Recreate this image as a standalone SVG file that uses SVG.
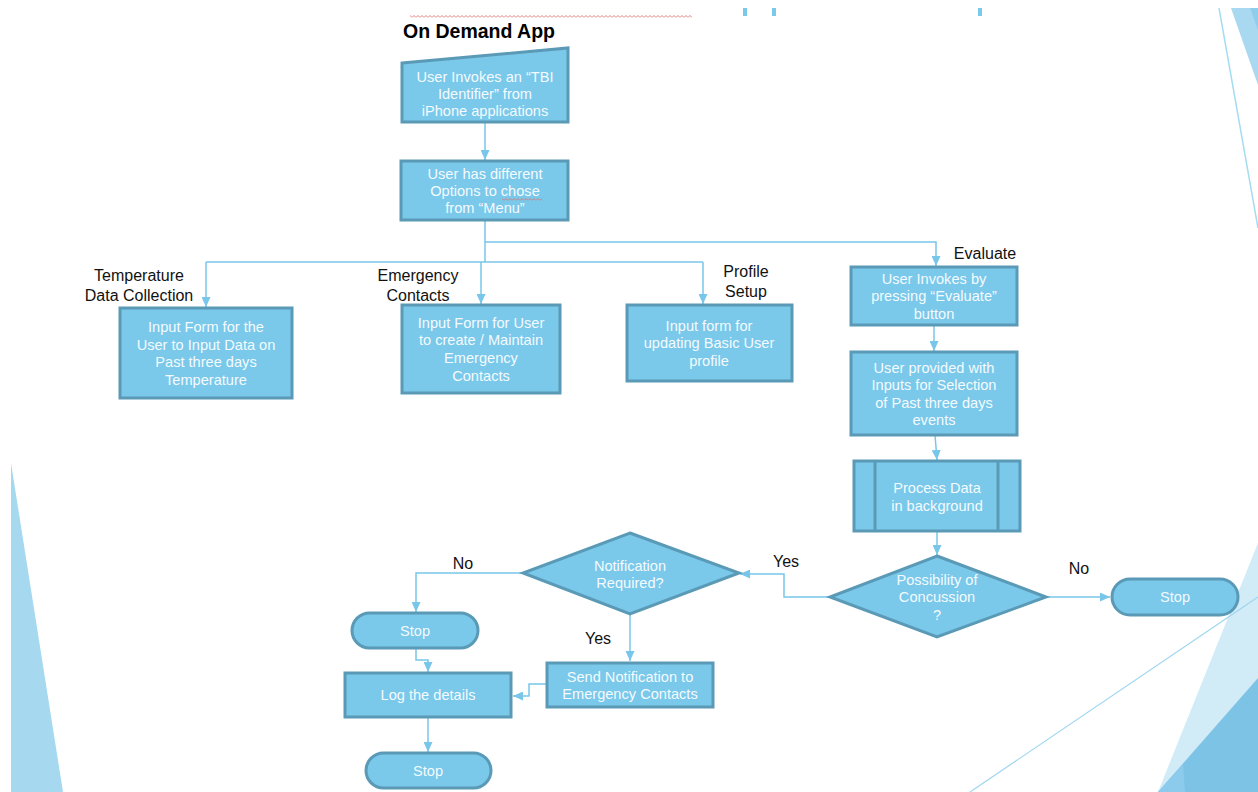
<svg xmlns="http://www.w3.org/2000/svg" width="1258" height="792" viewBox="0 0 1258 792">
<defs>
<style>
.n{fill:#7ac8ea;stroke:#5a9ab6;stroke-width:3}
.t{font-family:"Liberation Sans",Arial,sans-serif;font-size:14.6px;fill:#f4fbfe;text-anchor:middle}
.l{font-family:"Liberation Sans",Arial,sans-serif;font-size:16px;fill:#111;text-anchor:middle}
.c{fill:none;stroke:#78c6ea;stroke-width:1.5}
</style>
<pattern id="zz" x="0" y="0" width="4" height="3" patternUnits="userSpaceOnUse">
<path d="M0,2.5 L2,0.5 L4,2.5" fill="none" stroke="#e07070" stroke-width="0.9"/>
</pattern>
<marker id="a" markerWidth="10" markerHeight="9" refX="10" refY="4.5" orient="auto" markerUnits="userSpaceOnUse">
<path d="M0,0 L10,4.5 L0,9 z" fill="#78c6ea"/>
</marker>
</defs>
<rect width="1258" height="792" fill="#fff"/>
<g id="decor">
<polygon points="11,463 11,792 63,792" fill="#a6d9f0"/>
<polygon points="1231,8 1258,8 1258,85" fill="#a8d9f0"/>
<polygon points="1250,8 1258,8 1258,30" fill="#8fcdec"/>
<line x1="1219" y1="8" x2="1258" y2="228" stroke="#a6dcf2" stroke-width="1.5"/>
<polygon points="1258,543 1258,792 1158,792" fill="#d1ebf7"/>
<polygon points="1258,678 1258,792 1158,792" fill="#7dc3e6"/>
<polygon points="1183,764 1158,792 1185,792" fill="#8ccbeb"/>
<line x1="1258" y1="597" x2="970" y2="792" stroke="#9fd6f0" stroke-width="1.2"/>
<rect x="743" y="8" width="4" height="8" fill="#7ac8ea"/>
<rect x="772" y="8" width="4" height="8" fill="#7ac8ea"/>
<rect x="978" y="8" width="4" height="8" fill="#7ac8ea"/>
<rect x="410" y="15" width="282" height="3" fill="url(#zz)"/>
</g>
<text x="403" y="38" font-family="'Liberation Sans',Arial,sans-serif" font-size="19.5" font-weight="bold" fill="#000">On Demand App</text>
<g id="connectors">
<line class="c" x1="485" y1="122" x2="485" y2="160" marker-end="url(#a)"/>
<polyline class="c" points="485,220 485,262"/>
<polyline class="c" points="485,242 936,242 936,266" marker-end="url(#a)"/>
<polyline class="c" points="206,262 703,262"/>
<line class="c" x1="206" y1="262" x2="206" y2="307" marker-end="url(#a)"/>
<line class="c" x1="481" y1="262" x2="481" y2="304" marker-end="url(#a)"/>
<line class="c" x1="703" y1="262" x2="703" y2="304" marker-end="url(#a)"/>
<line class="c" x1="934" y1="325" x2="934" y2="351" marker-end="url(#a)"/>
<line class="c" x1="935" y1="435" x2="937" y2="460" marker-end="url(#a)"/>
<line class="c" x1="937" y1="531" x2="937" y2="555" marker-end="url(#a)"/>
<line class="c" x1="1046" y1="597" x2="1110" y2="597" marker-end="url(#a)"/>
<polyline class="c" points="830,597 784,597 784,574 740,574" marker-end="url(#a)"/>
<polyline class="c" points="522,573 416,573 416,612" marker-end="url(#a)"/>
<line class="c" x1="630" y1="614" x2="630" y2="661" marker-end="url(#a)"/>
<polyline class="c" points="416,648 416,660 428,660 428,672" marker-end="url(#a)"/>
<polyline class="c" points="547,684 529,684 529,696 513,696" marker-end="url(#a)"/>
<line class="c" x1="428" y1="717" x2="428" y2="752" marker-end="url(#a)"/>
</g>
<g id="labels">
<text class="l" x="139" y="281">Temperature</text>
<text class="l" x="139" y="301">Data Collection</text>
<text class="l" x="418" y="281">Emergency</text>
<text class="l" x="418" y="301">Contacts</text>
<text class="l" x="746" y="277">Profile</text>
<text class="l" x="746" y="297">Setup</text>
<text class="l" x="985" y="259">Evaluate</text>
<text class="l" x="786" y="567">Yes</text>
<text class="l" x="1079" y="574">No</text>
<text class="l" x="463" y="569">No</text>
<text class="l" x="598" y="644">Yes</text>
</g>
<g id="n-tbi">
<polygon class="n" points="402,63 568,48 568,122 402,122"/>
<text class="t" x="485" y="82">User Invokes an “TBI</text>
<text class="t" x="485" y="99">Identifier” from</text>
<text class="t" x="485" y="116">iPhone applications</text>
</g>
<g id="n-menu">
<rect class="n" x="401" y="161" width="167" height="59"/>
<text class="t" x="485" y="179">User has different</text>
<text class="t" x="485" y="196">Options to chose</text>
<text class="t" x="485" y="213">from “Menu”</text>
<rect x="502" y="198" width="40" height="3" fill="url(#zz)"/>
</g>
<g id="n-temp">
<rect class="n" x="120" y="308" width="172" height="90"/>
<text class="t" x="206" y="332">Input Form for the</text>
<text class="t" x="206" y="350">User to Input Data on</text>
<text class="t" x="206" y="367">Past three days</text>
<text class="t" x="206" y="385">Temperature</text>
</g>
<g id="n-emerg">
<rect class="n" x="402" y="305" width="158" height="88"/>
<text class="t" x="481" y="328">Input Form for User</text>
<text class="t" x="481" y="345">to create / Maintain</text>
<text class="t" x="481" y="363">Emergency</text>
<text class="t" x="481" y="381">Contacts</text>
</g>
<g id="n-profile">
<rect class="n" x="627" y="305" width="165" height="76"/>
<text class="t" x="709" y="331">Input form for</text>
<text class="t" x="709" y="348">updating Basic User</text>
<text class="t" x="709" y="366">profile</text>
</g>
<g id="n-evaluate">
<rect class="n" x="851" y="267" width="166" height="58"/>
<text class="t" x="934" y="284">User Invokes by</text>
<text class="t" x="934" y="301">pressing “Evaluate”</text>
<text class="t" x="934" y="319">button</text>
</g>
<g id="n-inputs">
<rect class="n" x="851" y="352" width="166" height="83"/>
<text class="t" x="934" y="373">User provided with</text>
<text class="t" x="934" y="390">Inputs for Selection</text>
<text class="t" x="934" y="408">of Past three days</text>
<text class="t" x="934" y="425">events</text>
</g>
<g id="n-process">
<rect class="n" x="854" y="461" width="166" height="70"/>
<line x1="875" y1="461" x2="875" y2="531" stroke="#5a9ab6" stroke-width="3"/>
<line x1="998" y1="461" x2="998" y2="531" stroke="#5a9ab6" stroke-width="3"/>
<text class="t" x="937" y="493">Process Data</text>
<text class="t" x="937" y="511">in background</text>
</g>
<g id="n-concussion">
<polygon class="n" points="937,556 1046,597 937,637 830,597"/>
<text class="t" x="937" y="585">Possibility of</text>
<text class="t" x="937" y="602">Concussion</text>
<text class="t" x="937" y="620">?</text>
</g>
<g id="n-stop1">
<rect class="n" x="1112" y="579" width="126" height="36" rx="18"/>
<text class="t" x="1175" y="602">Stop</text>
</g>
<g id="n-notify">
<polygon class="n" points="630,533 739,573 630,614 523,573"/>
<text class="t" x="630" y="571">Notification</text>
<text class="t" x="630" y="588">Required?</text>
</g>
<g id="n-stop2">
<rect class="n" x="352" y="613" width="126" height="35" rx="17.5"/>
<text class="t" x="415" y="636">Stop</text>
</g>
<g id="n-send">
<rect class="n" x="547" y="663" width="166" height="44"/>
<text class="t" x="630" y="682">Send Notification to</text>
<text class="t" x="630" y="699">Emergency Contacts</text>
</g>
<g id="n-log">
<rect class="n" x="345" y="673" width="166" height="44"/>
<text class="t" x="428" y="700">Log the details</text>
</g>
<g id="n-stop3">
<rect class="n" x="366" y="753" width="125" height="35" rx="17.5"/>
<text class="t" x="428" y="776">Stop</text>
</g>
</svg>
